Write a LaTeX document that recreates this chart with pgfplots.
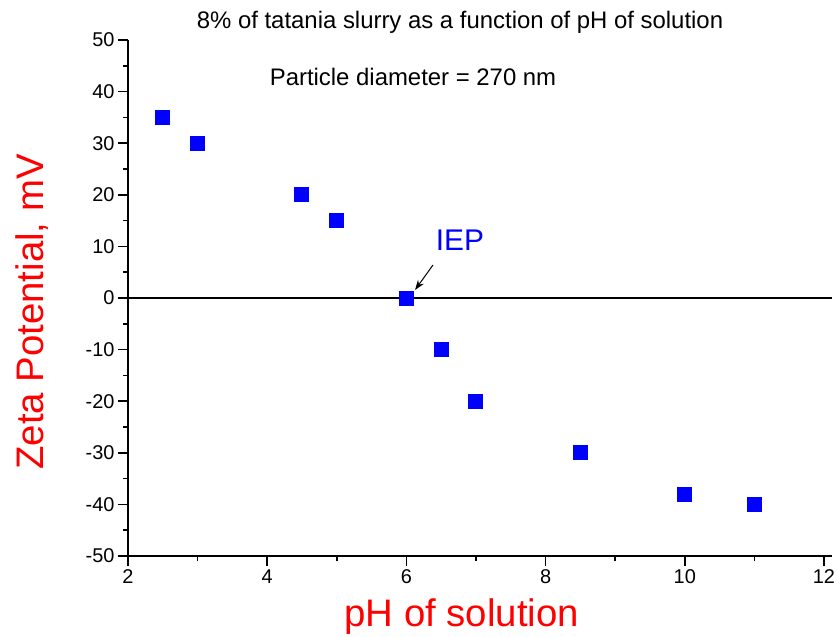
\documentclass[border=0pt]{standalone}
\usepackage{pgfplots}
\pgfplotsset{compat=1.18}
\usetikzlibrary{arrows.meta}
\usepackage{fontspec}
\setmainfont{Liberation Sans}
\definecolor{myblue}{RGB}{0,0,255}
\definecolor{myred}{RGB}{255,0,0}
\begin{document}
\begin{tikzpicture}
\begin{axis}[
  at={(0,0)}, anchor=south west,
  scale only axis,
  width=704bp, height=516bp,
  xmin=2, xmax=12.115, ymin=-50, ymax=50,
  axis x line*=bottom, axis y line*=left,
  axis line style={line width=1.6bp, -},
  x axis line style={-}, y axis line style={-},
  every outer x axis line/.append style={-},
  every outer y axis line/.append style={-},
  xtick={2,4,6,8,10,12},
  ytick={-50,-40,-30,-20,-10,0,10,20,30,40,50},
  minor x tick num=1, minor y tick num=1,
  tick align=outside,
  major tick length=10bp, minor tick length=5bp,
  every tick/.style={black, line width=1.6bp},
  tick label style={font=\fontsize{20}{24}\selectfont},
  /pgf/number format/assume math mode=true,
  xlabel={pH of solution},
  ylabel={Zeta Potential, mV},
  xlabel style={font=\fontsize{38.5}{44}\selectfont, text=myred, at={(rel axis cs:0.474,-0.118)}, anchor=center},
  ylabel style={font=\fontsize{38.5}{44}\selectfont, text=myred, at={(rel axis cs:-0.136,0.473)}, anchor=center, rotate=0},
  clip=false,
]
\addplot[draw=black, line width=1.2bp] coordinates {(2,0) (12.115,0)};
\addplot[only marks, mark=square*, mark size=7bp, mark options={fill=myblue, draw=myblue, line width=0pt}] coordinates {
(2.5,35) (3,30) (4.5,20) (5,15) (6,0) (6.5,-10) (7,-20) (8.5,-30) (10,-38) (11,-40)
};
\node[font=\fontsize{24}{28}\selectfont] at (axis cs:6.77,53.5) {8\% of tatania slurry as a function of pH of solution};
\node[font=\fontsize{24}{28}\selectfont] at (axis cs:6.095,42.83) {Particle diameter = 270 nm};
\node[font=\fontsize{30}{34}\selectfont, text=myblue] at (axis cs:6.77,11.24) {IEP};
\draw[-{Stealth[length=10bp,width=7bp]}, line width=1bp] (axis cs:6.382,6.40) -- (axis cs:6.124,1.55);
\end{axis}
\pgfresetboundingbox
\path[use as bounding box] (-128bp,-81bp) rectangle (709bp,556bp);
\end{tikzpicture}
\end{document}
